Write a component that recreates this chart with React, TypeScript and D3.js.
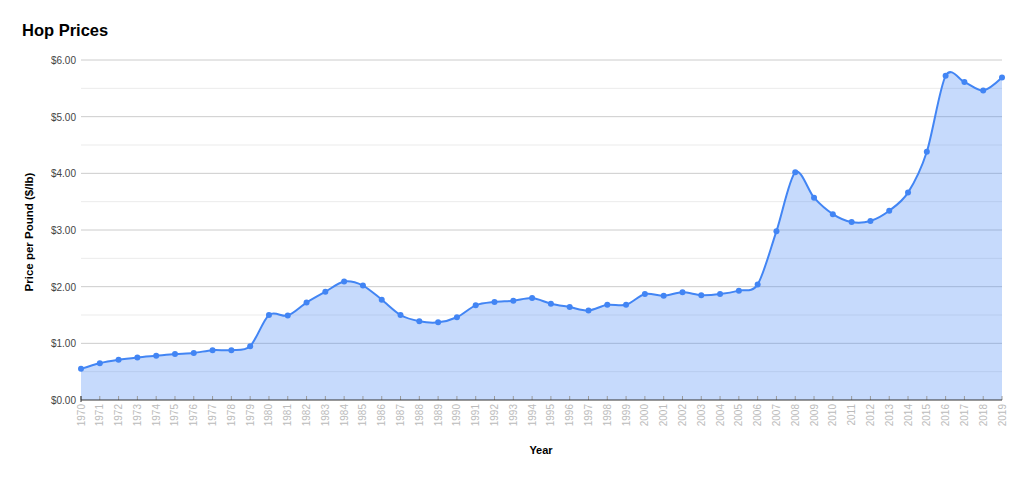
import React from "react";
import * as d3 from "d3";

const years: number[] = [
  1970, 1971, 1972, 1973, 1974, 1975, 1976, 1977, 1978, 1979,
  1980, 1981, 1982, 1983, 1984, 1985, 1986, 1987, 1988, 1989,
  1990, 1991, 1992, 1993, 1994, 1995, 1996, 1997, 1998, 1999,
  2000, 2001, 2002, 2003, 2004, 2005, 2006, 2007, 2008, 2009,
  2010, 2011, 2012, 2013, 2014, 2015, 2016, 2017, 2018, 2019,
];

const prices: number[] = [
  0.55, 0.65, 0.71, 0.75, 0.78, 0.81, 0.83, 0.88, 0.88, 0.95,
  1.5, 1.49, 1.72, 1.91, 2.09, 2.02, 1.77, 1.5, 1.39, 1.37,
  1.46, 1.67, 1.73, 1.75, 1.8, 1.7, 1.64, 1.58, 1.68, 1.68,
  1.87, 1.84, 1.9, 1.85, 1.87, 1.93, 2.04, 2.98, 4.02, 3.57,
  3.28, 3.14, 3.16, 3.34, 3.66, 4.38, 5.72, 5.61, 5.46, 5.69,
];

const majorTicks: number[] = [0, 1, 2, 3, 4, 5, 6];
const minorTicks: number[] = [0.5, 1.5, 2.5, 3.5, 4.5, 5.5];

const W = 1024;
const H = 477;
const left = 81;
const right = 1002;
const top = 60;
const bottom = 400;
const FONT = "Arial, 'Liberation Sans', sans-serif";
const BLUE = "#4285f4";

export default function App() {
  const x = d3.scaleLinear().domain([years[0], years[years.length - 1]]).range([left, right]);
  const y = d3.scaleLinear().domain([0, 6]).range([bottom, top]);
  const pts = years.map((yr, i) => [yr, prices[i]] as [number, number]);
  const curve = d3.curveCardinal.tension(0.1);
  const line = d3.line<[number, number]>().x((d) => x(d[0])).y((d) => y(d[1])).curve(curve);
  const area = d3
    .area<[number, number]>()
    .x((d) => x(d[0]))
    .y0(y(0))
    .y1((d) => y(d[1]))
    .curve(curve);
  const money = d3.format("$.2f");

  return (
    <svg width={W} height={H} style={{ position: "absolute", left: 0, top: 0, background: "#fff" }} fontFamily={FONT}>
      <text x={22} y={36} fontSize={16.5} fontWeight="bold" fill="#000">Hop Prices</text>

      {minorTicks.map((t) => (
        <line key={"m" + t} x1={left} x2={right} y1={y(t)} y2={y(t)} stroke="#ebebeb" strokeWidth={1} />
      ))}
      {majorTicks.slice(1).map((t) => (
        <line key={"g" + t} x1={left} x2={right} y1={y(t)} y2={y(t)} stroke="#cccccc" strokeWidth={1} />
      ))}

      <path d={area(pts) ?? ""} fill={BLUE} fillOpacity={0.3} />

      {majorTicks.map((t) => (
        <text key={"l" + t} x={76} y={y(t) + 4} fontSize={10} textAnchor="end" fill="#444">{money(t)}</text>
      ))}

      {years.map((yr) => (
        <line key={"t" + yr} x1={x(yr)} x2={x(yr)} y1={bottom - 4} y2={bottom} stroke="#999" strokeWidth={1} />
      ))}
      <line x1={left} x2={left} y1={bottom - 4} y2={bottom + 2} stroke="#333" strokeWidth={1} />
      <line x1={left} x2={right} y1={bottom} y2={bottom} stroke="#333" strokeWidth={1} />

      {years.map((yr) => (
        <text
          key={"x" + yr}
          transform={`translate(${x(yr) + 3.5},${bottom + 4}) rotate(-90)`}
          fontSize={10}
          textAnchor="end"
          fill="#bbbbbb"
        >
          {yr}
        </text>
      ))}

      <path d={line(pts) ?? ""} fill="none" stroke={BLUE} strokeWidth={2} />
      {pts.map((d) => (
        <circle key={"p" + d[0]} cx={x(d[0])} cy={y(d[1])} r={3} fill={BLUE} />
      ))}

      <text transform={`translate(33,232) rotate(-90)`} fontSize={11.5} fontWeight="bold" textAnchor="middle" fill="#000">
        Price per Pound ($/lb)
      </text>
      <text x={541} y={454} fontSize={11} fontWeight="bold" textAnchor="middle" fill="#000">Year</text>
    </svg>
  );
}
